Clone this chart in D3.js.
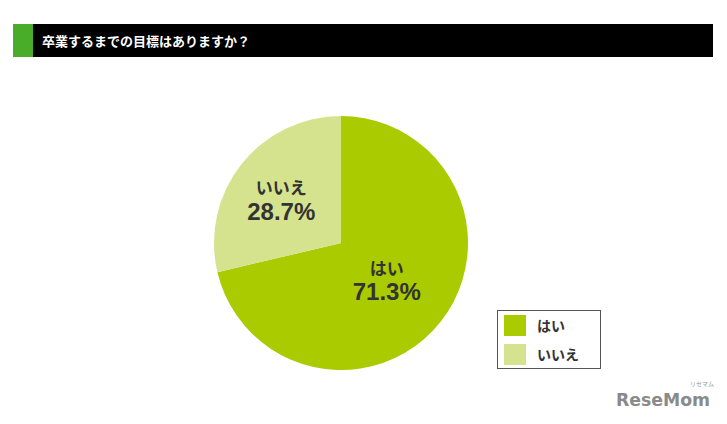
<!DOCTYPE html>
<html><head><meta charset="utf-8">
<script src="https://cdn.jsdelivr.net/npm/d3@7"></script>
<style>body{margin:0;background:#fff}svg{display:block}</style>
</head><body>
<script>
const title = "卒業するまでの目標はありますか？";
const categories = ["はい", "いいえ"];
const values = [71.3, 28.7];
const colors = ["#aacb00", "#d5e38e"];

const W = 727, H = 424;
const svg = d3.select("body").append("svg").attr("width", W).attr("height", H);
const font = "'Noto Sans CJK JP', 'Noto Sans', sans-serif";

// title bar
svg.append("rect").attr("x", 13).attr("y", 24).attr("width", 700).attr("height", 33).attr("fill", "#000");
svg.append("rect").attr("x", 13).attr("y", 24).attr("width", 20).attr("height", 33).attr("fill", "#4aad2a");
svg.append("text").attr("x", 42).attr("y", 46).attr("fill", "#fff").attr("font-family", font)
  .attr("font-weight", "bold").attr("font-size", 13).text(title);

// pie
const cx = 341, cy = 243, r = 127;
const pie = d3.pie().sort(null).value(d => d.v);
const data = categories.map((c, i) => ({c, v: values[i], col: colors[i]}));
const arcs = pie(data);
const arc = d3.arc().innerRadius(0).outerRadius(r);
const g = svg.append("g").attr("transform", `translate(${cx},${cy})`);
g.selectAll("path").data(arcs).join("path").attr("d", arc).attr("fill", d => d.data.col);

// label anchors from centroid, with small per-slice nudges
const labelArc = d3.arc().innerRadius(r * 0.55).outerRadius(r * 0.55);
const nudge = [[-9, 0], [-5, 4]];
const lbl = g.selectAll("g.lbl").data(arcs).join("g").attr("class", "lbl")
  .attr("transform", (d, i) => {
    const [x, y] = labelArc.centroid(d);
    return `translate(${x + nudge[i][0]},${y + nudge[i][1]})`;
  });
lbl.append("text").attr("text-anchor", "middle").attr("y", (d, i) => i === 0 ? -11 : -10).attr("font-family", font)
  .attr("font-weight", "bold").attr("font-size", 17).attr("fill", "#333").text(d => d.data.c);
lbl.append("text").attr("text-anchor", "middle").attr("y", (d, i) => i === 0 ? 14 : 16).attr("font-family", "'Liberation Sans', Arial, sans-serif")
  .attr("font-weight", "bold").attr("font-size", 24).attr("fill", "#333").text(d => d.data.v.toFixed(1) + "%");

// legend
const lg = svg.append("g").attr("transform", "translate(497,310)");
lg.append("rect").attr("x", 0.5).attr("y", 0.5).attr("width", 103).attr("height", 58)
  .attr("fill", "#fff").attr("stroke", "#555").attr("stroke-width", 1);
const li = lg.selectAll("g.li").data(data).join("g").attr("class", "li")
  .attr("transform", (d, i) => `translate(7,${5 + i * 29})`);
li.append("rect").attr("width", 22).attr("height", 21).attr("fill", d => d.col);
li.append("text").attr("x", 33).attr("y", 16).attr("font-family", font).attr("font-weight", "bold")
  .attr("font-size", 14).attr("fill", "#333").text(d => d.c);

// logo
svg.append("text").attr("x", 616).attr("y", 406).attr("font-family", "'DejaVu Sans', sans-serif")
  .attr("font-weight", "bold").attr("font-size", 17).attr("fill", "#8a8a8a").attr("textLength", 94)
  .attr("lengthAdjust", "spacingAndGlyphs").text("ReseMom");
svg.append("text").attr("x", 690).attr("y", 386).attr("font-family", font)
  .attr("font-size", 6).attr("fill", "#999").text("リセマム");
</script>
</body></html>
